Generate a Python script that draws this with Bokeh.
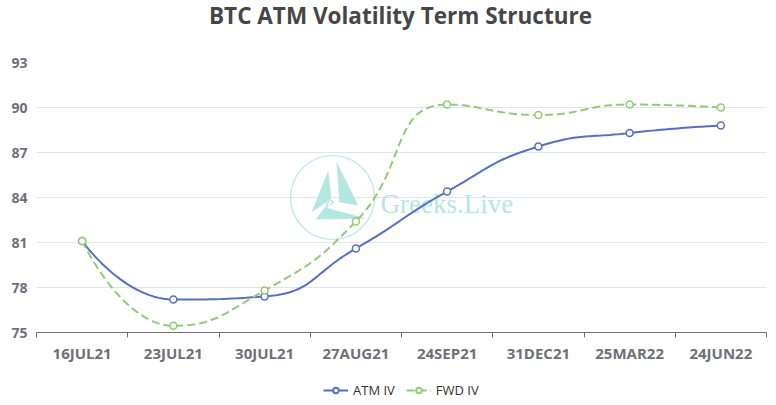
import math
import numpy as np
from bokeh.plotting import figure
from bokeh.layouts import column
from bokeh.models import FixedTicker, Range1d, Legend, LegendItem, CustomJSTickFormatter, ColumnDataSource
from bokeh.core.properties import value
from bokeh.embed import file_html
from bokeh.resources import INLINE

# ---------------- data ----------------
title_text = "BTC ATM Volatility Term Structure"
expiries = ["16JUL21", "23JUL21", "30JUL21", "27AUG21", "24SEP21", "31DEC21", "25MAR22", "24JUN22"]
atm_iv = [81.1, 77.2, 77.4, 80.6, 84.4, 87.4, 88.3, 88.8]
fwd_iv = [81.1, 75.45, 77.8, 82.4, 90.2, 89.5, 90.2, 90.0]
y_ticks = [75, 78, 81, 84, 87, 90, 93]
series_names = ["ATM IV", "FWD IV"]

# ---------------- layout ----------------
W = 770
TH = 36                      # title strip height
ML, MR, MT, MB = 36, 4, 26, 33
FH = 270
H = MT + FH + MB
FW = W - ML - MR
LH = 38                      # legend strip height
Y0, Y1 = 75, 93
X0, X1 = -0.5, len(expiries) - 0.5

ATM_COLOR = "#5470c6"
FWD_COLOR = "#91cc75"
AXIS_COLOR = "#6e7079"
WM_COLOR = "#b5e7e1"


def to_px(xd, yd):
    return (xd - X0) / (X1 - X0) * FW, (yd - Y0) / (Y1 - Y0) * FH


def to_data(px, py):
    return X0 + px / FW * (X1 - X0), Y0 + py / FH * (Y1 - Y0)


def smooth_curve(xs, ys, smooth=0.5, steps=30):
    """ECharts-style smoothed polyline, computed in pixel space."""
    P = [to_px(x, y) for x, y in zip(xs, ys)]
    n = len(P)
    outx, outy = [P[0][0]], [P[0][1]]
    cpx0, cpy0 = P[0]
    for i in range(1, n):
        x, y = P[i]
        prevX, prevY = P[i - 1]
        if i < n - 1:
            nextX, nextY = P[i + 1]
            vx, vy = nextX - prevX, nextY - prevY
            lenPrev = math.hypot(x - prevX, y - prevY)
            lenNext = math.hypot(nextX - x, nextY - y)
            ratio = lenNext / (lenNext + lenPrev)
            ncx = x + vx * smooth * ratio
            ncy = y + vy * smooth * ratio
            ncx = max(min(ncx, max(nextX, x)), min(nextX, x))
            ncy = max(min(ncy, max(nextY, y)), min(nextY, y))
            vx, vy = ncx - x, ncy - y
            cpx1 = x - vx * lenPrev / lenNext
            cpy1 = y - vy * lenPrev / lenNext
            cpx1 = max(min(cpx1, max(prevX, x)), min(prevX, x))
            cpy1 = max(min(cpy1, max(prevY, y)), min(prevY, y))
            vx, vy = x - cpx1, y - cpy1
            ncx = x + vx * lenNext / lenPrev
            ncy = y + vy * lenNext / lenPrev
        else:
            cpx1, cpy1 = x, y
            ncx, ncy = x, y
        t = np.linspace(0, 1, steps + 1)[1:]
        bx = (1 - t) ** 3 * prevX + 3 * (1 - t) ** 2 * t * cpx0 + 3 * (1 - t) * t ** 2 * cpx1 + t ** 3 * x
        by = (1 - t) ** 3 * prevY + 3 * (1 - t) ** 2 * t * cpy0 + 3 * (1 - t) * t ** 2 * cpy1 + t ** 3 * y
        outx.extend(bx.tolist())
        outy.extend(by.tolist())
        cpx0, cpy0 = ncx, ncy
    dx, dy = zip(*[to_data(a, b) for a, b in zip(outx, outy)])
    return list(dx), list(dy)


def strip(height):
    # the column aligns this strip's frame with the main chart's frame
    f = figure(width=W, height=height, output_backend="svg", toolbar_location=None,
               x_range=Range1d(0, FW), y_range=Range1d(0, height),
               x_axis_location=None, y_axis_location=None, title=None,
               min_border_left=0, min_border_right=0, min_border_top=0, min_border_bottom=0,
               background_fill_color="white", border_fill_color="white")
    f.outline_line_color = None
    f.grid.visible = False
    return f


idx = list(range(len(expiries)))

# ---------------- title strip ----------------
tf = strip(TH)
tf.text([400 - ML], [TH - 14.5], text=[title_text], text_font=value("Open Sans"),
        text_font_size="22.5px", text_font_style="bold", text_color="#464646",
        text_align="center", text_baseline="middle")

# ---------------- main chart ----------------
p = figure(width=W, height=H, output_backend="svg", toolbar_location=None, title=None,
           x_range=Range1d(X0, X1), y_range=Range1d(Y0, Y1),
           min_border_left=ML, min_border_right=MR, min_border_top=MT, min_border_bottom=MB,
           background_fill_color="white", border_fill_color="white")
p.outline_line_color = None

p.xgrid.grid_line_color = None
p.ygrid.ticker = FixedTicker(ticks=y_ticks[1:])
p.ygrid.grid_line_color = "#e0e6f1"
p.ygrid.grid_line_width = 1

p.yaxis.ticker = FixedTicker(ticks=y_ticks)
p.yaxis.axis_line_color = None
p.yaxis.major_tick_line_color = None
p.yaxis.minor_tick_line_color = None
p.yaxis.major_tick_out = 0
p.yaxis.major_tick_in = 0
p.yaxis.major_label_standoff = 9
p.yaxis.major_label_text_font = "Open Sans"
p.yaxis.major_label_text_font_size = "14px"
p.yaxis.major_label_text_font_style = "bold"
p.yaxis.major_label_text_color = AXIS_COLOR

p.xaxis.ticker = FixedTicker(ticks=idx, minor_ticks=[i - 0.5 for i in range(len(expiries) + 1)])
p.xaxis.formatter = CustomJSTickFormatter(args=dict(labels=expiries),
                                          code="return labels[Math.round(tick)] || '';")
p.xaxis.axis_line_color = AXIS_COLOR
p.xaxis.axis_line_width = 1
p.xaxis.major_tick_line_color = None
p.xaxis.major_tick_out = 0
p.xaxis.major_tick_in = 0
p.xaxis.minor_tick_line_color = AXIS_COLOR
p.xaxis.minor_tick_out = 5
p.xaxis.minor_tick_in = 0
p.xaxis.major_label_standoff = 5
p.xaxis.major_label_text_font = "Open Sans"
p.xaxis.major_label_text_font_size = "15px"
p.xaxis.major_label_text_font_style = "bold"
p.xaxis.major_label_text_color = AXIS_COLOR

# watermark (decoration, positioned in pixel offsets from the frame's lower-left)
wm_cx, wm_cy = to_data(296, 135)
p.scatter([wm_cx], [wm_cy], marker="circle", size=84, fill_color=None,
          line_color=WM_COLOR, line_width=1.2)
tri_px = [
    [(291.7, 162.0), (275.0, 120.0), (295.0, 134.0)],
    [(300.0, 171.0), (321.7, 127.0), (302.7, 130.3)],
    [(279.0, 113.0), (288.0, 125.0), (330.0, 114.0)],
]
tri_x, tri_y = [], []
for tri in tri_px:
    xs_, ys_ = zip(*[to_data(a, b) for a, b in tri])
    tri_x.append(list(xs_))
    tri_y.append(list(ys_))
p.patches(tri_x, tri_y, fill_color=WM_COLOR, line_color=None)
ex, ey = to_data(293, 130)
p.text([ex], [ey], text=["e"], text_font=value("Liberation Serif"), text_font_size="20px",
       text_font_style="italic", text_color=WM_COLOR, text_align="center", text_baseline="alphabetic")
gx, gy = to_data(344, 129)
p.text([gx], [gy], text=["Greeks.Live"], text_font=value("Liberation Serif"), text_font_size="27px",
       text_color=WM_COLOR, text_align="left", text_baseline="alphabetic")

ax, ay = smooth_curve(idx, atm_iv)
fx, fy = smooth_curve(idx, fwd_iv)
p.line(ax, ay, line_color=ATM_COLOR, line_width=2)
p.scatter(idx, atm_iv, marker="circle", size=7, fill_color="white",
          line_color=ATM_COLOR, line_width=1.5)
p.line(fx, fy, line_color=FWD_COLOR, line_width=2, line_dash="8 4")
p.scatter(idx, fwd_iv, marker="circle", size=7, fill_color="white",
          line_color=FWD_COLOR, line_width=1.5)

# ---------------- legend strip ----------------
lg = strip(LH)
off = ColumnDataSource(dict(x=[-100, -90], y=[-100, -100]))   # off-screen stand-ins for legend glyphs
l_atm = lg.line("x", "y", source=off, line_color=ATM_COLOR, line_width=2)
m_atm = lg.scatter("x", "y", source=off, marker="circle", size=9, fill_color="white",
                   line_color=ATM_COLOR, line_width=2)
l_fwd = lg.line("x", "y", source=off, line_color=FWD_COLOR, line_width=2, line_dash="8 4")
m_fwd = lg.scatter("x", "y", source=off, marker="circle", size=9, fill_color="white",
                   line_color=FWD_COLOR, line_width=2)
legend = Legend(items=[LegendItem(label=series_names[0], renderers=[l_atm, m_atm]),
                       LegendItem(label=series_names[1], renderers=[l_fwd, m_fwd])],
                orientation="horizontal", location=(323 - ML, 4),
                glyph_width=25, glyph_height=14, label_standoff=5, spacing=11,
                padding=0, margin=0,
                label_text_font="Open Sans", label_text_font_size="13px",
                label_text_color="#333333",
                border_line_color=None, background_fill_alpha=0)
lg.add_layout(legend, "center")

layout = column(tf, p, lg, spacing=0)
open("out.html", "w").write(file_html(layout, INLINE))
